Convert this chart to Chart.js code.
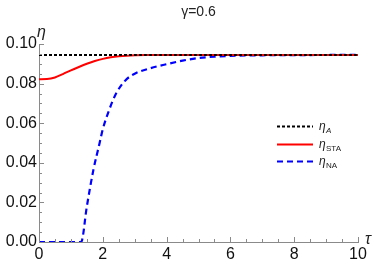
<!DOCTYPE html>
<html>
<head>
<meta charset="utf-8">
<script src="https://cdn.jsdelivr.net/npm/chart.js@4"></script>
<style>
  html, body { margin: 0; padding: 0; background: #fff; }
  #wrap { width: 374px; height: 267px; }
</style>
</head>
<body>
<div id="wrap"><canvas id="etaChart" width="374" height="267"></canvas></div>
<script>
// curves
const tauA = [0, 10];
const etaA = [0.0945, 0.0945];

const tauSTA = [0, 0.25, 0.5, 0.75, 1.0, 1.25, 1.5, 1.75, 2.0, 2.25, 2.5, 3.0, 3.5, 4.0, 6.0, 8.0, 10.0];
const etaSTA = [0.0822, 0.0823, 0.0831, 0.0848, 0.0867, 0.0884, 0.0900, 0.0914, 0.0925, 0.0933, 0.0938, 0.0943, 0.0944, 0.0945, 0.0945, 0.0945, 0.0945];

const tauNA = [0, 0.5, 1.0, 1.32, 1.5, 1.7, 1.9, 2.0, 2.2, 2.4, 2.7, 3.0, 3.5, 4.0, 4.5, 5.0, 5.5, 6.0, 7.0, 8.0, 10.0];
const etaNA = [0, 0, 0, 0, 0.018, 0.036, 0.050, 0.057, 0.0667, 0.0745, 0.0815, 0.0850, 0.0878, 0.0898, 0.0916, 0.0929, 0.0936, 0.0940, 0.0943, 0.0944, 0.0945];

const yTicks = [0, 0.02, 0.04, 0.06, 0.08, 0.10];
const xTicks = [0, 2, 4, 6, 8, 10];

const legendSubs = ['A', 'STA', 'NA'];

const pts = (xs, ys) => xs.map((x, i) => ({ x: x, y: ys[i] }));

const axisGray = '#8a8a8a';
const font = '"Liberation Sans", Arial, sans-serif';

// minor/major ticks drawn inward, legend, axis labels and title
const decor = {
  id: 'decor',
  afterDraw(chart) {
    const c = chart.ctx;
    const xs = chart.scales.x, ys = chart.scales.y;
    const area = chart.chartArea;
    c.save();
    c.strokeStyle = axisGray;
    c.lineWidth = 1;
    for (let k = 0; k <= 20; k++) {
      const v = k * 0.005;
      const py = Math.round(ys.getPixelForValue(v)) + 0.5;
      const len = k % 4 === 0 ? 5 : 3;
      c.beginPath(); c.moveTo(area.left, py); c.lineTo(area.left + len, py); c.stroke();
    }
    for (let k = 0; k <= 20; k++) {
      const v = k * 0.5;
      const px = Math.round(xs.getPixelForValue(v)) + 0.5;
      const len = k % 4 === 0 ? 5 : 3;
      c.beginPath(); c.moveTo(px, area.bottom); c.lineTo(px, area.bottom - len); c.stroke();
    }

    c.fillStyle = '#222';
    c.textBaseline = 'alphabetic';
    c.textAlign = 'center';
    c.font = '14px ' + font;
    c.fillText('\u03b3=0.6', (area.left + area.right) / 2, 16);

    c.textAlign = 'left';
    c.font = 'italic 16px ' + font;
    c.fillText('\u03b7', area.left - 2, 37);
    c.fillText('\u03c4', area.right + 7, area.bottom + 2);

    // legend inside plot
    const rows = [126, 144, 161];
    chart.data.datasets.forEach((ds, i) => {
      const y = rows[i] + 0.5;
      c.strokeStyle = ds.borderColor;
      c.lineWidth = ds.borderWidth;
      c.setLineDash(ds.borderDash || []);
      c.beginPath(); c.moveTo(277, y); c.lineTo(313, y); c.stroke();
      c.setLineDash([]);
      c.fillStyle = '#222';
      c.font = 'italic 12px ' + font;
      c.fillText('\u03b7', 319, y + 3);
      c.font = (i === 0 ? 'italic ' : '') + '8px ' + font;
      c.fillText(legendSubs[i], 326, y + 6);
    });
    c.restore();
  }
};

new Chart(document.getElementById('etaChart'), {
  type: 'scatter',
  data: {
    datasets: [
      { label: '\u03b7A', data: pts(tauA, etaA), showLine: true, borderColor: '#000', borderWidth: 2, borderDash: [3, 2], pointRadius: 0 },
      { label: '\u03b7STA', data: pts(tauSTA, etaSTA), showLine: true, borderColor: '#ff0000', borderWidth: 2, pointRadius: 0, cubicInterpolationMode: 'monotone' },
      { label: '\u03b7NA', data: pts(tauNA, etaNA), showLine: true, borderColor: '#0000ff', borderWidth: 2.2, borderDash: [6, 4], pointRadius: 0, cubicInterpolationMode: 'monotone' }
    ]
  },
  options: {
    responsive: false,
    animation: false,
    layout: { padding: { top: 44, right: 16, left: 0, bottom: 0 } },
    plugins: { legend: { display: false }, tooltip: { enabled: false } },
    scales: {
      x: {
        type: 'linear', min: 0, max: 10,
        afterBuildTicks: s => { s.ticks = xTicks.map(v => ({ value: v })); },
        afterFit: s => { s.height = 25; },
        grid: { display: false, drawTicks: false },
        border: { display: true, color: axisGray, width: 1 },
        ticks: { color: '#111', padding: 3, maxRotation: 0, font: { size: 16, family: font } }
      },
      y: {
        type: 'linear', min: 0, max: 0.1,
        afterBuildTicks: s => { s.ticks = yTicks.map(v => ({ value: v })); },
        afterFit: s => { s.width = 39; },
        grid: { display: false, drawTicks: false },
        border: { display: true, color: axisGray, width: 1 },
        ticks: { color: '#111', padding: 2, font: { size: 16, family: font }, callback: v => v.toFixed(2) }
      }
    }
  },
  plugins: [decor]
});
</script>
</body>
</html>
